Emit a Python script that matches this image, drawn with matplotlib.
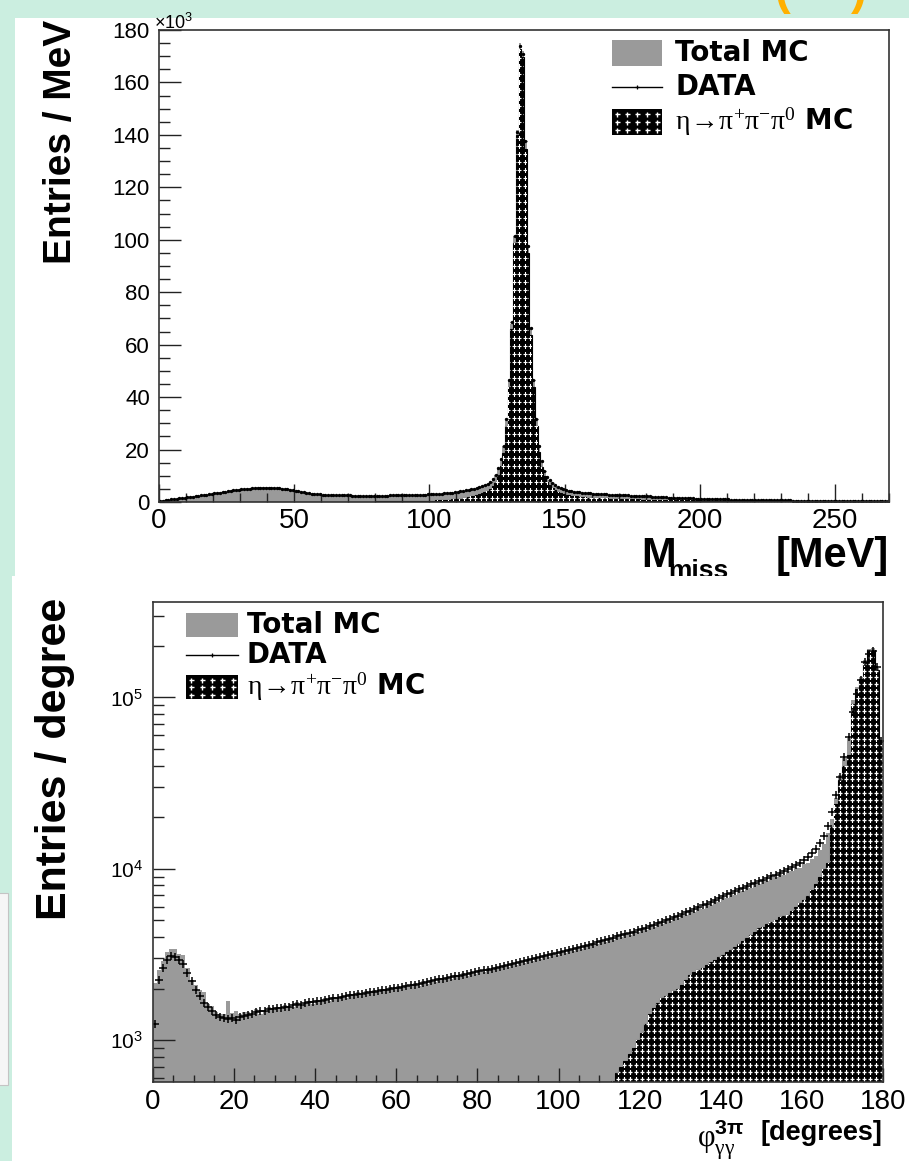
import numpy as np
import matplotlib
matplotlib.use("Agg")
import matplotlib.pyplot as plt
from matplotlib.patches import Rectangle
from matplotlib.lines import Line2D
from matplotlib.ticker import MultipleLocator, LogLocator, NullFormatter

plt.rcParams['font.family'] = ['Liberation Sans', 'DejaVu Sans']
plt.rcParams['mathtext.fontset'] = 'custom'
plt.rcParams['mathtext.rm'] = 'Liberation Sans'
plt.rcParams['mathtext.it'] = 'Liberation Sans:italic'
plt.rcParams['mathtext.bf'] = 'Liberation Sans:bold'
plt.rcParams['mathtext.sf'] = 'Liberation Serif'

# ---------------- top panel: missing mass, 1 MeV bins, units of 1e3 entries ----------------
mm_mc = [
    0.4, 0.6, 0.8, 0.9, 1.0, 1.2, 1.3, 1.4, 1.5, 1.7,
    1.8, 1.9, 2.1, 2.2, 2.4, 2.5, 2.7, 2.9, 3.0, 3.2,
    3.4, 3.5, 3.7, 3.9, 4.0, 4.2, 4.4, 4.5, 4.7, 4.8,
    5.0, 5.1, 5.2, 5.3, 5.5, 5.5, 5.6, 5.7, 5.7, 5.7,
    5.7, 5.6, 5.6, 5.5, 5.4, 5.3, 5.1, 5.0, 4.8, 4.6,
    4.4, 4.2, 4.0, 3.8, 3.6, 3.4, 3.3, 3.1, 3.0, 2.9,
    2.8, 2.8, 2.7, 2.7, 2.6, 2.6, 2.6, 2.5, 2.5, 2.5,
    2.5, 2.5, 2.5, 2.4, 2.4, 2.4, 2.4, 2.4, 2.4, 2.4,
    2.4, 2.4, 2.4, 2.4, 2.5, 2.5, 2.5, 2.5, 2.5, 2.6,
    2.6, 2.6, 2.6, 2.7, 2.7, 2.7, 2.8, 2.8, 2.9, 2.9,
    3.0, 3.0, 3.1, 3.2, 3.2, 3.3, 3.4, 3.5, 3.6, 3.8,
    3.9, 4.1, 4.3, 4.4, 4.5, 4.6, 4.8, 5.0, 5.3, 5.6,
    6.0, 6.5, 7.2, 8.2, 9.8, 12.5, 16.0, 21.0, 31.0, 46.0,
    68.0, 101.0, 142.0, 175.0, 172.0, 137.0, 97.0, 66.0, 46.0, 31.0,
    21.0, 15.0, 11.5, 9.5, 8.0, 7.0, 6.2, 5.6, 5.1, 4.7,
    4.4, 4.2, 4.0, 3.8, 3.7, 3.6, 3.5, 3.4, 3.3, 3.2,
    3.1, 3.1, 3.0, 3.0, 2.9, 2.8, 2.8, 2.7, 2.7, 2.6,
    2.6, 2.5, 2.5, 2.4, 2.4, 2.3, 2.3, 2.2, 2.2, 2.1,
    2.1, 2.0, 2.0, 1.9, 1.9, 1.8, 1.8, 1.7, 1.7, 1.6,
    1.6, 1.6, 1.5, 1.5, 1.4, 1.4, 1.4, 1.3, 1.3, 1.3,
    1.2, 1.2, 1.2, 1.1, 1.1, 1.1, 1.0, 1.0, 1.0, 1.0,
    0.9, 0.9, 0.9, 0.9, 0.8, 0.8, 0.8, 0.8, 0.8, 0.7,
    0.7, 0.7, 0.7, 0.7, 0.7, 0.6, 0.6, 0.6, 0.6, 0.6,
    0.6, 0.6, 0.6, 0.5, 0.5, 0.5, 0.5, 0.5, 0.5, 0.5,
    0.5, 0.5, 0.5, 0.5, 0.4, 0.4, 0.4, 0.4, 0.4, 0.4,
    0.4, 0.4, 0.4, 0.4, 0.4, 0.4, 0.4, 0.3, 0.3, 0.3,
    0.3, 0.3, 0.3, 0.3, 0.3, 0.3, 0.3, 0.3, 0.3, 0.3,
]
mm_data = [
    0.3, 0.5, 0.7, 0.9, 1.0, 1.1, 1.2, 1.4, 1.5, 1.6,
    1.8, 1.9, 2.0, 2.2, 2.3, 2.5, 2.6, 2.8, 3.0, 3.1,
    3.3, 3.4, 3.6, 3.7, 3.9, 4.1, 4.2, 4.4, 4.5, 4.7,
    4.8, 4.9, 5.0, 5.1, 5.2, 5.3, 5.4, 5.4, 5.5, 5.5,
    5.5, 5.4, 5.4, 5.3, 5.2, 5.1, 5.0, 4.9, 4.7, 4.5,
    4.3, 4.1, 3.9, 3.7, 3.5, 3.4, 3.2, 3.1, 3.0, 2.9,
    2.8, 2.7, 2.7, 2.6, 2.6, 2.6, 2.5, 2.5, 2.5, 2.5,
    2.5, 2.4, 2.4, 2.4, 2.4, 2.4, 2.4, 2.4, 2.4, 2.4,
    2.4, 2.4, 2.4, 2.4, 2.4, 2.5, 2.5, 2.5, 2.5, 2.5,
    2.6, 2.6, 2.6, 2.6, 2.7, 2.7, 2.8, 2.8, 2.8, 2.9,
    2.9, 3.0, 3.1, 3.1, 3.2, 3.3, 3.4, 3.5, 3.6, 3.7,
    3.9, 4.1, 4.3, 4.5, 4.7, 4.9, 5.1, 5.3, 5.6, 6.0,
    6.4, 6.9, 7.6, 8.6, 10.2, 13.0, 16.5, 21.5, 31.5, 46.5,
    68.5, 101.5, 141.0, 174.0, 171.0, 137.5, 97.5, 66.5, 46.5, 31.5,
    21.5, 15.5, 11.8, 9.7, 8.2, 7.1, 6.3, 5.7, 5.2, 4.8,
    4.5, 4.3, 4.1, 3.9, 3.8, 3.7, 3.6, 3.5, 3.4, 3.3,
    3.2, 3.1, 3.1, 3.0, 2.9, 2.9, 2.8, 2.8, 2.7, 2.7,
    2.6, 2.6, 2.5, 2.5, 2.4, 2.4, 2.3, 2.3, 2.2, 2.2,
    2.1, 2.1, 2.0, 2.0, 1.9, 1.9, 1.8, 1.8, 1.7, 1.7,
    1.6, 1.6, 1.6, 1.5, 1.5, 1.4, 1.4, 1.4, 1.3, 1.3,
    1.3, 1.2, 1.2, 1.2, 1.1, 1.1, 1.1, 1.0, 1.0, 1.0,
    1.0, 0.9, 0.9, 0.9, 0.9, 0.8, 0.8, 0.8, 0.8, 0.8,
    0.7, 0.7, 0.7, 0.7, 0.7, 0.7, 0.6, 0.6, 0.6, 0.6,
    0.6, 0.6, 0.6, 0.6, 0.5, 0.5, 0.5, 0.5, 0.5, 0.5,
    0.5, 0.5, 0.5, 0.5, 0.5, 0.4, 0.4, 0.4, 0.4, 0.4,
    0.4, 0.4, 0.4, 0.4, 0.4, 0.4, 0.4, 0.4, 0.3, 0.3,
    0.3, 0.3, 0.3, 0.3, 0.3, 0.3, 0.3, 0.3, 0.3, 0.3,
]
mm_sig = [
    0.0, 0.0, 0.0, 0.0, 0.0, 0.0, 0.0, 0.0, 0.0, 0.0,
    0.0, 0.0, 0.0, 0.0, 0.0, 0.0, 0.0, 0.0, 0.0, 0.0,
    0.0, 0.0, 0.0, 0.0, 0.0, 0.0, 0.0, 0.0, 0.0, 0.0,
    0.0, 0.0, 0.0, 0.0, 0.0, 0.0, 0.0, 0.0, 0.0, 0.0,
    0.0, 0.0, 0.0, 0.0, 0.0, 0.0, 0.0, 0.0, 0.0, 0.0,
    0.1, 0.1, 0.1, 0.1, 0.1, 0.1, 0.1, 0.1, 0.1, 0.1,
    0.1, 0.1, 0.1, 0.1, 0.1, 0.1, 0.1, 0.1, 0.1, 0.1,
    0.1, 0.1, 0.1, 0.1, 0.1, 0.1, 0.1, 0.1, 0.1, 0.1,
    0.2, 0.2, 0.2, 0.2, 0.2, 0.2, 0.2, 0.2, 0.2, 0.2,
    0.3, 0.3, 0.3, 0.3, 0.3, 0.4, 0.4, 0.4, 0.4, 0.5,
    0.5, 0.5, 0.6, 0.6, 0.7, 0.7, 0.8, 0.9, 1.0, 1.1,
    1.2, 1.3, 1.5, 1.7, 1.9, 2.1, 2.4, 2.7, 3.0, 3.4,
    3.8, 4.3, 5.0, 6.0, 7.6, 10.3, 13.8, 18.8, 28.8, 43.8,
    65.8, 98.8, 139.8, 172.8, 169.8, 134.8, 94.8, 63.8, 43.8, 28.8,
    19.0, 13.2, 9.8, 7.8, 6.4, 5.4, 4.6, 4.0, 3.5, 3.1,
    2.8, 2.6, 2.4, 2.2, 2.1, 2.0, 1.9, 1.8, 1.7, 1.7,
    1.6, 1.6, 1.5, 1.5, 1.4, 1.4, 1.3, 1.3, 1.3, 1.2,
    1.2, 1.2, 1.1, 1.1, 1.1, 1.0, 1.0, 1.0, 0.9, 0.9,
    0.9, 0.9, 0.8, 0.8, 0.8, 0.8, 0.7, 0.7, 0.7, 0.7,
    0.6, 0.6, 0.6, 0.6, 0.6, 0.6, 0.6, 0.6, 0.6, 0.6,
    0.5, 0.5, 0.5, 0.5, 0.5, 0.5, 0.5, 0.5, 0.5, 0.5,
    0.4, 0.4, 0.4, 0.4, 0.4, 0.4, 0.4, 0.4, 0.4, 0.4,
    0.3, 0.3, 0.3, 0.3, 0.3, 0.3, 0.3, 0.3, 0.3, 0.3,
    0.2, 0.2, 0.2, 0.2, 0.2, 0.2, 0.2, 0.2, 0.2, 0.2,
    0.2, 0.2, 0.2, 0.2, 0.2, 0.2, 0.2, 0.2, 0.2, 0.2,
    0.1, 0.1, 0.1, 0.1, 0.1, 0.1, 0.1, 0.1, 0.1, 0.1,
    0.1, 0.1, 0.1, 0.1, 0.1, 0.1, 0.1, 0.1, 0.1, 0.1,
]
mm_xticks = [0, 50, 100, 150, 200, 250]
mm_yticks = [0, 20, 40, 60, 80, 100, 120, 140, 160, 180]

# ---------------- bottom panel: opening angle, 1 degree bins ----------------
phi_mc = [
    2150, 2550, 2900, 3250, 3400, 3400, 3200, 3150, 2650, 2250,
    2100, 1950, 1900, 1620, 1580, 1450, 1430, 1420, 1700, 1440,
    1480, 1420, 1450, 1460, 1400, 1520, 1430, 1480, 1560, 1490,
    1560, 1520, 1600, 1590, 1560, 1660, 1580, 1640, 1700, 1620,
    1720, 1660, 1750, 1700, 1790, 1740, 1820, 1770, 1860, 1800,
    1900, 1840, 1930, 1880, 1960, 1900, 2000, 1950, 2040, 1980,
    2060, 2010, 2100, 2060, 2150, 2080, 2200, 2140, 2250, 2180,
    2290, 2230, 2340, 2280, 2390, 2330, 2450, 2380, 2500, 2430,
    2560, 2500, 2620, 2560, 2680, 2620, 2740, 2680, 2820, 2740,
    2900, 2820, 2960, 2900, 3040, 2970, 3120, 3050, 3220, 3140,
    3300, 3240, 3400, 3330, 3500, 3420, 3600, 3520, 3700, 3620,
    3820, 3740, 3950, 3860, 4080, 3990, 4210, 4120, 4350, 4270,
    4500, 4400, 4680, 4570, 4860, 4740, 5050, 4940, 5250, 5150,
    5480, 5370, 5720, 5600, 5980, 5860, 6250, 6140, 6550, 6420,
    6880, 6750, 7200, 7060, 7550, 7400, 7900, 7750, 8250, 8100,
    8600, 8500, 8950, 8900, 9300, 9250, 9700, 9650, 10100, 10100,
    10600, 10800, 11400, 11800, 12800, 14000, 16200, 19500, 26000, 35000,
    44000, 58000, 96000, 115000, 132000, 165000, 192000, 193000, 148000, 56000,
]
phi_data = [
    1250, 2250, 2650, 2950, 3100, 3050, 2950, 2780, 2480, 2200,
    1950, 1800, 1650, 1560, 1470, 1400, 1370, 1350, 1320, 1340,
    1310, 1360, 1390, 1410, 1430, 1450, 1480, 1470, 1510, 1520,
    1540, 1550, 1570, 1560, 1600, 1620, 1610, 1650, 1660, 1670,
    1700, 1690, 1720, 1740, 1760, 1770, 1790, 1800, 1830, 1840,
    1860, 1870, 1890, 1910, 1920, 1940, 1960, 1950, 1990, 2010,
    2020, 2050, 2070, 2090, 2110, 2140, 2160, 2180, 2210, 2230,
    2260, 2280, 2310, 2330, 2360, 2380, 2410, 2440, 2460, 2490,
    2520, 2550, 2580, 2610, 2640, 2670, 2710, 2740, 2770, 2810,
    2850, 2880, 2920, 2960, 3000, 3040, 3080, 3120, 3170, 3210,
    3260, 3300, 3350, 3400, 3450, 3500, 3550, 3610, 3660, 3720,
    3780, 3840, 3900, 3960, 4030, 4090, 4160, 4230, 4300, 4380,
    4450, 4530, 4620, 4710, 4800, 4900, 5000, 5100, 5200, 5320,
    5440, 5560, 5690, 5830, 5970, 6110, 6260, 6420, 6580, 6750,
    6920, 7080, 7250, 7420, 7590, 7760, 7930, 8100, 8280, 8460,
    8650, 8840, 9040, 9250, 9470, 9700, 9950, 10200, 10500, 10800,
    11200, 11700, 12300, 13100, 14200, 15600, 17800, 21500, 27000, 34500,
    45000, 59000, 82000, 105000, 127000, 160000, 180000, 186000, 150000, 56000,
]
phi_sig_first_bin = 100
phi_sig = [
    150, 170, 190, 210, 240, 270, 300, 340, 380, 420,
    460, 500, 540, 580, 640, 700, 760, 830, 900, 1000,
    1100, 1250, 1430, 1550, 1650, 1750, 1820, 1880, 1940, 2000,
    2100, 2250, 2400, 2500, 2570, 2650, 2750, 2850, 2940, 3050,
    3150, 3250, 3360, 3500, 3650, 3800, 3950, 4100, 4300, 4500,
    4600, 4750, 4900, 5050, 5200, 5300, 5400, 5700, 6000, 6300,
    6600, 6900, 7500, 8200, 9000, 10000, 10800, 17600, 24000, 33000,
    40000, 46000, 92000, 112000, 128000, 160000, 190000, 190000, 145000, 55000,
]
phi_xticks = [0, 20, 40, 60, 80, 100, 120, 140, 160, 180]

for name, arr, n in [("mm_mc", mm_mc, 270), ("mm_data", mm_data, 270), ("mm_sig", mm_sig, 270),
                     ("phi_mc", phi_mc, 180), ("phi_data", phi_data, 180), ("phi_sig", phi_sig, 80)]:
    if len(arr) != n:
        raise ValueError(f"{name} has {len(arr)} values, expected {n}")

GREY = '#9a9a9a'
W, H = 909, 1161
fig = plt.figure(figsize=(W / 100, H / 100), dpi=100)
fig.patch.set_facecolor('#cbeee0')


def fx(x):
    return x / W


def fy(y):
    return 1 - y / H


# panel backgrounds
fig.add_artist(Rectangle((fx(15), fy(576)), (W - 15) / W, (576 - 18) / H, transform=fig.transFigure,
                         fc='white', ec='none', zorder=-3))
fig.add_artist(Rectangle((fx(12), 0), (W - 12) / W, fy(576), transform=fig.transFigure,
                         fc='white', ec='none', zorder=-1))
fig.add_artist(Rectangle((fx(-2), fy(1085)), 10 / W, (1085 - 893) / H, transform=fig.transFigure,
                         fc='#f6f6f6', ec='#c4c4c4', lw=0.8, zorder=-1))
# cut-off orange title fragment (only its lower edge is visible above the panel)
fig.text(fx(775), fy(4), '(', color='#ffb000', fontsize=34, fontweight='bold', va='baseline', zorder=-2.5)
fig.text(fx(851), fy(4), ')', color='#ffb000', fontsize=34, fontweight='bold', va='baseline', zorder=-2.5)

ax1 = fig.add_axes([fx(159), fy(502), (889 - 159) / W, (502 - 30) / H])
ax2 = fig.add_axes([fx(153), fy(1082), (883 - 153) / W, (1082 - 602) / H])


def add_cross_pattern(ax, patch, wpx, hpx, dx=6.0, dy=7.0, ms=3.2, mew=0.9):
    nx = int(wpx / dx) + 1
    ny = int(hpx / dy) + 1
    gx, gy = np.meshgrid((np.arange(nx) + 0.5) * dx / wpx, (np.arange(ny) + 0.5) * dy / hpx)
    ln, = ax.plot(gx.ravel(), gy.ravel(), linestyle='none', marker='+', ms=ms, mew=mew,
                  color='white', transform=ax.transAxes, zorder=patch.get_zorder() + 0.1)
    ln.set_clip_path(patch)


# ---- top panel ----
e1 = np.arange(len(mm_mc) + 1)
ax1.stairs(mm_mc, e1, fill=True, color=GREY, zorder=1)
sig1 = ax1.stairs(mm_sig, e1, fill=True, facecolor='black', edgecolor='black', lw=0.8, zorder=2)
add_cross_pattern(ax1, sig1, 730, 472, dx=5.5, dy=8.0, ms=3.0, mew=0.8)
c1 = e1[:-1] + 0.5
err1 = np.sqrt(np.array(mm_data) * 1000) / 1000
ax1.errorbar(c1, mm_data, xerr=0.5, yerr=err1, fmt='o', ms=1.4, color='black', elinewidth=1.0,
             capsize=0, zorder=4)
ax1.set_xlim(0, 270)
ax1.set_ylim(0, 180)
ax1.set_xticks(mm_xticks)
ax1.set_yticks(mm_yticks)
ax1.xaxis.set_minor_locator(MultipleLocator(10))
ax1.yaxis.set_minor_locator(MultipleLocator(5))
ax1.tick_params(which='both', direction='in', top=False, right=False, width=1.0, color='#222222')
ax1.tick_params(axis='y', which='major', length=15.8, pad=6.5, labelsize=16)
ax1.tick_params(axis='y', which='minor', length=7.9)
ax1.tick_params(axis='x', which='major', length=13, pad=4, labelsize=20)
ax1.tick_params(axis='x', which='minor', length=6.5)
fig.text(fx(154), fy(29), r'$\times10^{3}$', fontsize=13, ha='left', va='baseline')

# ---- bottom panel ----
ax2.set_yscale('log')
e2 = np.arange(len(phi_mc) + 1)
ax2.stairs(phi_mc, e2, fill=True, color=GREY, baseline=100, zorder=1)
e2s = np.arange(phi_sig_first_bin, phi_sig_first_bin + len(phi_sig) + 1)
sig2 = ax2.stairs(phi_sig, e2s, fill=True, facecolor='black', edgecolor='black', lw=0.8,
                  baseline=100, zorder=2)
add_cross_pattern(ax2, sig2, 730, 480, dx=6.0, dy=6.8, ms=3.2, mew=0.9)
ax2.plot(e2[:-1] + 0.5, phi_data, linestyle='none', marker='+', ms=6, mew=1.1, color='black', zorder=4)
ax2.set_xlim(0, 180)
ax2.set_ylim(570, 3.6e5)
ax2.set_xticks(phi_xticks)
ax2.xaxis.set_minor_locator(MultipleLocator(5))
ax2.yaxis.set_major_locator(LogLocator(base=10))
ax2.yaxis.set_minor_locator(LogLocator(base=10, subs=np.arange(2, 10)))
ax2.yaxis.set_minor_formatter(NullFormatter())
ax2.tick_params(which='both', direction='in', top=False, right=False, width=1.0, color='#222222')
ax2.tick_params(axis='y', which='major', length=15.8, pad=7, labelsize=15)
ax2.tick_params(axis='y', which='minor', length=7.9)
ax2.tick_params(axis='x', which='major', length=10, pad=5, labelsize=20)
ax2.tick_params(axis='x', which='minor', length=5)

for ax in (ax1, ax2):
    for s in ax.spines.values():
        s.set_linewidth(1.2)
        s.set_color('#333333')
        s.set_zorder(5)

# ---- axis titles ----
fig.text(fx(61), fy(20), 'Entries / MeV', rotation=90, ha='center', va='top', fontsize=28,
         fontweight='bold')
fig.text(fx(55), fy(598), 'Entries / degree', rotation=90, ha='center', va='top', fontsize=31,
         fontweight='bold')
fig.text(fx(641), fy(567), 'M', fontsize=30, fontweight='bold', ha='left', va='baseline', zorder=-2)
fig.text(fx(668), fy(578), 'miss', fontsize=19, fontweight='bold', ha='left', va='baseline', zorder=-2)
fig.text(fx(889), fy(567), '[MeV]', fontsize=30, fontweight='bold', ha='right', va='baseline',
         zorder=-2)
fig.text(fx(697), fy(1146), r'$\mathsf{\varphi}^{\mathbf{3\pi}}_{\mathsf{\gamma\gamma}}$',
         fontsize=22, ha='left', va='baseline')
fig.text(fx(882), fy(1140), '[degrees]', fontsize=19.5, fontweight='bold', ha='right', va='baseline')

# ---- legends (drawn manually to match positions) ----
SIG_LABEL = r'$\mathsf{\eta\!\rightarrow\!\pi^{+}\pi^{-}\pi^{0}}$' + ' MC'


def draw_legend(x0, x1, rows, hh, tx, fs):
    ya, yb, yc = rows
    # Total MC
    fig.add_artist(Rectangle((fx(x0), fy(ya + hh / 2)), (x1 - x0) / W, hh / H, transform=fig.transFigure,
                             fc=GREY, ec='none', zorder=6))
    # DATA
    fig.add_artist(Line2D([fx(x0), fx(x1)], [fy(yb), fy(yb)], transform=fig.transFigure, color='black',
                          lw=1.0, zorder=6))
    fig.add_artist(Line2D([fx((x0 + x1) / 2)], [fy(yb)], transform=fig.transFigure, color='black',
                          marker='+', ms=3.5, mew=0.9, zorder=6))
    # signal MC
    fig.add_artist(Rectangle((fx(x0), fy(yc + hh / 2)), (x1 - x0) / W, hh / H, transform=fig.transFigure,
                             fc='black', ec='none', zorder=6))
    cx = x0 + (x1 - x0) * (np.arange(5) + 0.5) / 5
    cy = yc + hh * (np.arange(3) - 1) / 3.2
    gx, gy = np.meshgrid(cx, cy)
    fig.add_artist(Line2D(fx(gx.ravel()), fy(gy.ravel()), transform=fig.transFigure, linestyle='none',
                          marker='+', ms=3.6, mew=1.0, color='white', zorder=7))
    for y, t in zip(rows, ['Total MC', 'DATA', SIG_LABEL]):
        fig.text(fx(tx), fy(y), t, fontsize=fs, fontweight='bold', ha='left', va='center',
                 family=['DejaVu Sans'], zorder=7)


draw_legend(612, 662, (53, 87, 122), 25, 675, 20)
draw_legend(186, 238, (625, 655, 687), 24, 247, 20)

fig.savefig('out.png', dpi=100, facecolor=fig.get_facecolor())
